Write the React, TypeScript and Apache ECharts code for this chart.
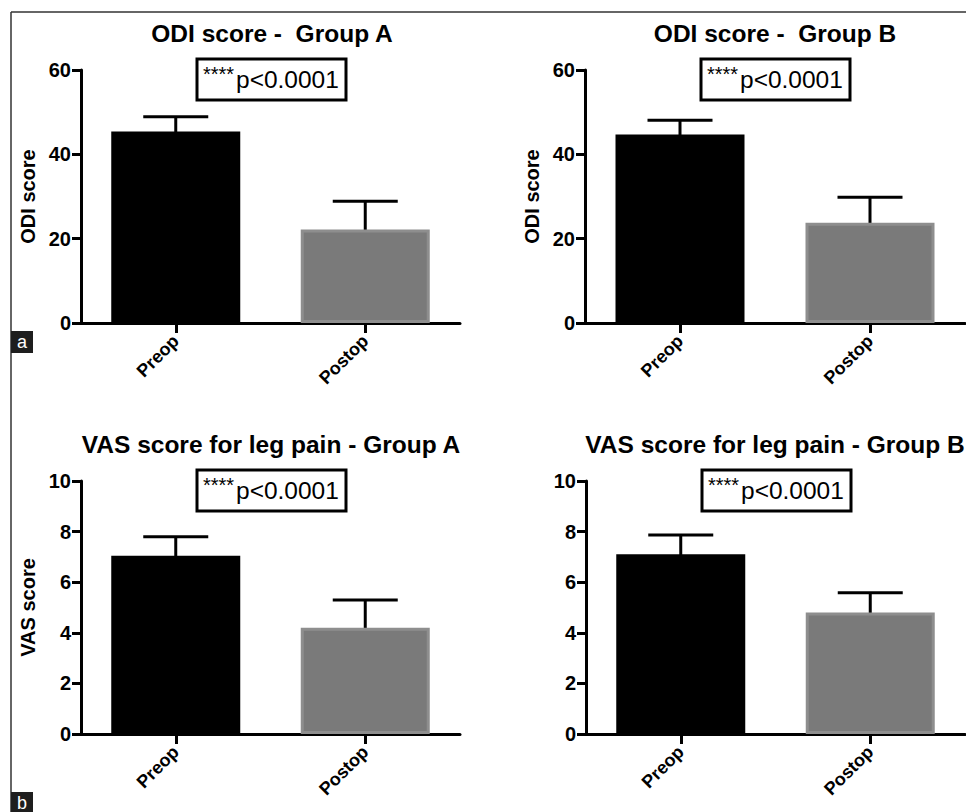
import React, { useEffect, useRef } from "react";
import * as echarts from "echarts";

const categories = ["Preop", "Postop"];

const odiAMean = [45.4, 22.2];
const odiASd = [3.5, 6.7];
const odiBMean = [44.7, 23.8];
const odiBSd = [3.4, 6.0];
const vasAMean = [7.05, 4.2];
const vasASd = [0.75, 1.1];
const vasBMean = [7.1, 4.8];
const vasBSd = [0.77, 0.78];

const panelTitles = [
  "ODI score -  Group A",
  "ODI score -  Group B",
  "VAS score for leg pain - Group A",
  "VAS score for leg pain - Group B",
];
const yNames = ["ODI score", "ODI score", "VAS score", ""];
const yMax = [60, 60, 10, 10];
const yInterval = [20, 20, 2, 2];
const pLabelStars = "****";
const pLabelText = "p<0.0001";
const panelLetters = ["a", "b"];

const FONT = "'Liberation Sans', Arial, Helvetica, sans-serif";

export default function App() {
  const ref = useRef<HTMLDivElement>(null);

  useEffect(() => {
    if (!ref.current) return;
    const chart = echarts.init(ref.current, undefined, { renderer: "svg" });

    const means = [odiAMean, odiBMean, vasAMean, vasBMean];
    const sds = [odiASd, odiBSd, vasASd, vasBSd];

    const grids = [
      { left: 81, top: 70, width: 379, height: 253 },
      { left: 585, top: 70, width: 380, height: 253 },
      { left: 81, top: 481, width: 379, height: 253 },
      { left: 586, top: 481, width: 379, height: 253 },
    ];
    const titleCenters = [272, 775, 271, 775];

    const xAxis = grids.map((_, i) => ({
      type: "category",
      gridIndex: i,
      data: categories,
      axisLine: { lineStyle: { color: "#000", width: 3 } },
      axisTick: { show: true, alignWithLabel: true, length: 10, lineStyle: { color: "#000", width: 3 } },
      axisLabel: {
        rotate: 45,
        margin: 15,
        color: "#000",
        fontFamily: FONT,
        fontWeight: "bold",
        fontSize: 18,
      },
    }));

    const yAxis = grids.map((_, i) => ({
      type: "value",
      gridIndex: i,
      min: 0,
      max: yMax[i],
      interval: yInterval[i],
      name: yNames[i],
      nameLocation: "middle",
      nameGap: 43,
      nameTextStyle: { color: "#000", fontFamily: FONT, fontWeight: "bold", fontSize: 20 },
      splitLine: { show: false },
      axisLine: { show: true, lineStyle: { color: "#000", width: 3 } },
      axisTick: { show: true, length: 9, lineStyle: { color: "#000", width: 3 } },
      axisLabel: { margin: 10, color: "#000", fontFamily: FONT, fontWeight: "bold", fontSize: 20 },
    }));

    const series: any[] = [];
    grids.forEach((_, i) => {
      series.push({
        type: "bar",
        xAxisIndex: i,
        yAxisIndex: i,
        barWidth: 129,
        data: means[i].map((v, k) => ({
          value: v,
          itemStyle:
            k === 0
              ? { color: "#000" }
              : { color: "#7a7a7a", borderColor: "#8e8e8e", borderWidth: 3 },
        })),
      });
      series.push({
        type: "custom",
        xAxisIndex: i,
        yAxisIndex: i,
        data: means[i].map((v, k) => [k, v, v + sds[i][k]]),
        renderItem: (params: any, api: any) => {
          const idx = api.value(0);
          const p0 = api.coord([idx, api.value(1)]);
          const p1 = api.coord([idx, api.value(2)]);
          const half = 32.5;
          return {
            type: "group",
            children: [
              {
                type: "line",
                shape: { x1: p0[0], y1: p0[1] + 2, x2: p1[0], y2: p1[1] },
                style: { stroke: "#000", lineWidth: 3 },
              },
              {
                type: "line",
                shape: { x1: p1[0] - half, y1: p1[1], x2: p1[0] + half, y2: p1[1] },
                style: { stroke: "#000", lineWidth: 3 },
              },
            ],
          };
        },
      });
    });

    const graphic: any[] = [];
    graphic.push({
      type: "line",
      shape: { x1: 11, y1: 12, x2: 966, y2: 12 },
      style: { stroke: "#333", lineWidth: 1.5 },
    });
    graphic.push({
      type: "line",
      shape: { x1: 11, y1: 12, x2: 11, y2: 812 },
      style: { stroke: "#333", lineWidth: 1.5 },
    });
    [331, 792].forEach((y, j) => {
      graphic.push({
        type: "rect",
        shape: { x: 11, y, width: 22, height: 22 },
        style: { fill: "#1e1e1e" },
      });
      graphic.push({
        type: "text",
        x: 22,
        y: y + 11,
        style: {
          text: panelLetters[j],
          fill: "#fff",
          font: `18px ${FONT}`,
          align: "center",
          verticalAlign: "middle",
        },
      });
    });

    grids.forEach((g, i) => {
      graphic.push({
        type: "text",
        x: titleCenters[i],
        y: g.top - 37,
        style: {
          text: panelTitles[i],
          fill: "#000",
          font: `bold 24.5px ${FONT}`,
          align: "center",
          verticalAlign: "middle",
        },
      });
      const bx = g.left + 116;
      const by = g.top - 11;
      graphic.push({
        type: "rect",
        shape: { x: bx, y: by, width: 149, height: 41 },
        style: { fill: "#fff", stroke: "#000", lineWidth: 3 },
      });
      graphic.push({
        type: "text",
        x: bx + 6,
        y: by + 15,
        style: {
          text: pLabelStars,
          fill: "#000",
          font: `20px ${FONT}`,
          align: "left",
          verticalAlign: "middle",
        },
      });
      graphic.push({
        type: "text",
        x: bx + 39,
        y: by + 20,
        style: {
          text: pLabelText,
          fill: "#000",
          font: `24.5px ${FONT}`,
          align: "left",
          verticalAlign: "middle",
        },
      });
    });

    chart.setOption({
      animation: false,
      backgroundColor: "#fff",
      grid: grids,
      xAxis,
      yAxis,
      series,
      graphic,
    });

    return () => chart.dispose();
  }, []);

  return (
    <div
      ref={ref}
      style={{ position: "absolute", left: 0, top: 0, width: 966, height: 812, background: "#fff" }}
    />
  );
}
